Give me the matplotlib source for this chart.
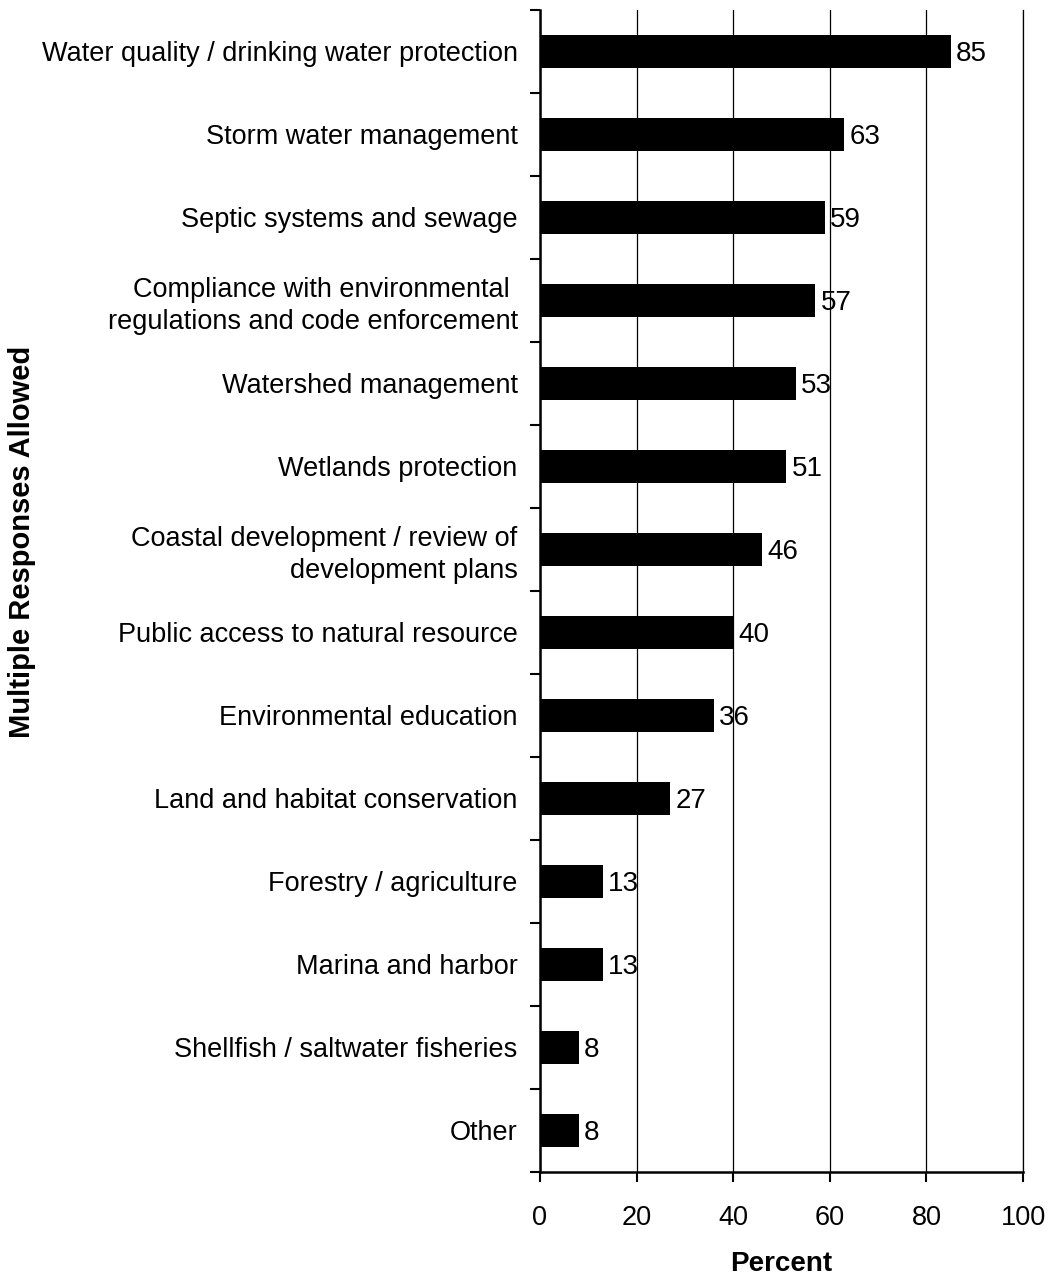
import matplotlib.pyplot as plt
import numpy as np

plt.rcParams['font.family'] = ['Liberation Sans', 'DejaVu Sans']

# Data
categories = ['Water quality / drinking water protection',
              'Storm water management',
              'Septic systems and sewage',
              'Compliance with environmental \nregulations and code enforcement',
              'Watershed management',
              'Wetlands protection',
              'Coastal development / review of\ndevelopment plans',
              'Public access to natural resource',
              'Environmental education',
              'Land and habitat conservation',
              'Forestry / agriculture',
              'Marina and harbor',
              'Shellfish / saltwater fisheries',
              'Other']
values = [85, 63, 59, 57, 53, 51, 46, 40, 36, 27, 13, 13, 8, 8]
x_ticks = [0, 20, 40, 60, 80, 100]

n = len(categories)
pos = np.arange(n)

fig = plt.figure(figsize=(10.54, 12.79), dpi=100)
ax = fig.add_axes([0.5123, 0.0837, 0.4583, 0.9085])

ax.barh(pos, values, height=0.4, color='black', zorder=3)
for p, v in zip(pos, values):
    ax.text(v + 1.1, p, str(v), va='center_baseline', ha='left', fontsize=20,
            zorder=4)

ax.set_xlim(0, 100)
ax.set_ylim(n - 0.5, -0.5)
ax.set_xticks(x_ticks)
ax.set_xticklabels([str(t) for t in x_ticks], fontsize=19.5)
ax.tick_params(axis='x', direction='out', length=7, width=1.5, pad=17)

# category labels at bar centres, ticks at band boundaries
ax.set_yticks(np.arange(-0.5, n, 1.0))
ax.set_yticklabels([])
ax.set_yticks(pos, minor=True)
ax.set_yticklabels(categories, minor=True, fontsize=19.5, ha='right',
                   linespacing=1.3)
ax.tick_params(axis='y', which='major', direction='out', length=7, width=1.5)
ax.tick_params(axis='y', which='minor', length=0, pad=16)

ax.xaxis.grid(True, color='black', linewidth=0.9, zorder=0)
ax.set_axisbelow(True)
ax.spines['top'].set_visible(False)
ax.spines['right'].set_linewidth(0.9)
for s in ['left', 'bottom']:
    ax.spines[s].set_linewidth(1.8)

ax.set_xlabel('Percent', fontsize=20, fontweight='bold', labelpad=14)
fig.text(0.021, 0.576, 'Multiple Responses Allowed', rotation=90, fontsize=21,
         fontweight='bold', va='center', ha='center')

plt.savefig('out.png', dpi=100)
